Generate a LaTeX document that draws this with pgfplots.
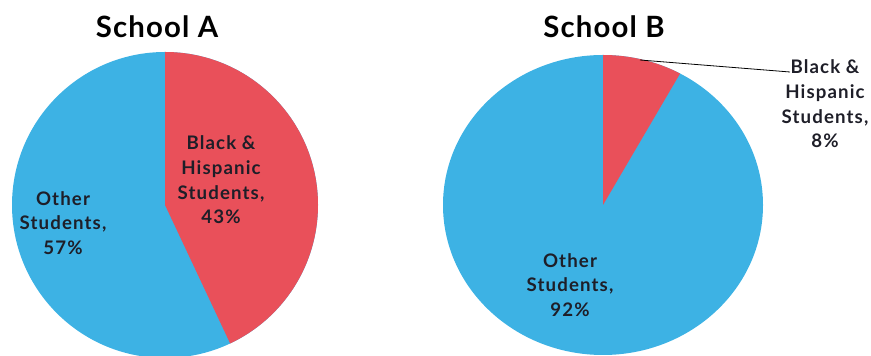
\documentclass[border=0pt]{standalone}
\usepackage{fontspec}
\setmainfont{Lato}
\newfontfamily\labfont[LetterSpace=6]{Lato}
\newfontfamily\titfont[LetterSpace=4]{Lato}
\usepackage{pgfplots}
\pgfplotsset{compat=1.18}
\definecolor{piered}{HTML}{E9505A}
\definecolor{pieblue}{HTML}{3DB2E4}
\definecolor{lbl}{HTML}{1E1E28}
% shares (percent)
\def\AblackHisp{43}\def\Aother{57}
\def\BblackHisp{8}\def\Bother{92}
\begin{document}
\begin{tikzpicture}
\pgfmathsetmacro{\Aend}{90-3.6*\AblackHisp}
\pgfmathsetmacro{\Bend}{90-3.6*\BblackHisp}
\begin{axis}[
  name=pies,
  scale only axis, width=653.25pt, height=267pt,
  xmin=0, xmax=871, ymin=0, ymax=356,
  hide axis, clip=true,
]
% School A
\fill[pieblue] (axis cs:165,151) ellipse[x radius=114.75pt, y radius=114.75pt];
\fill[piered] (axis cs:165,151) -- (axis cs:165,304) arc[start angle=90, end angle=\Aend, radius=114.75pt] -- cycle;
% School B
\fill[pieblue] (axis cs:603,151) ellipse[x radius=120pt, y radius=112.5pt];
\fill[piered] (axis cs:603,151) -- (axis cs:603,301) arc[start angle=90, end angle=\Bend, x radius=120pt, y radius=112.5pt] -- cycle;
\draw[black, line width=0.6pt] (axis cs:640,296) -- (axis cs:790,284);
% titles
\node[font=\titfont\fontsize{22}{26}\selectfont\bfseries, text=black] at (axis cs:157,329) {School A};
\node[font=\titfont\fontsize{22}{26}\selectfont\bfseries, text=black] at (axis cs:604,329) {School B};
% labels
\tikzset{lab/.style={font=\labfont\fontsize{14}{18.5}\selectfont\bfseries, text=lbl, align=center, inner sep=0pt}}
\node[lab] at (axis cs:221,176) {Black \&\\Hispanic\\Students,\\\AblackHisp\%};
\node[lab] at (axis cs:63,133) {Other\\Students,\\\Aother\%};
\node[lab] at (axis cs:570,71) {Other\\Students,\\\Bother\%};
\node[lab] at (axis cs:825,252) {Black \&\\Hispanic\\Students,\\\BblackHisp\%};
\end{axis}
\pgfresetboundingbox
\path[use as bounding box] (pies.south west) rectangle (pies.north east);
\end{tikzpicture}
\end{document}
